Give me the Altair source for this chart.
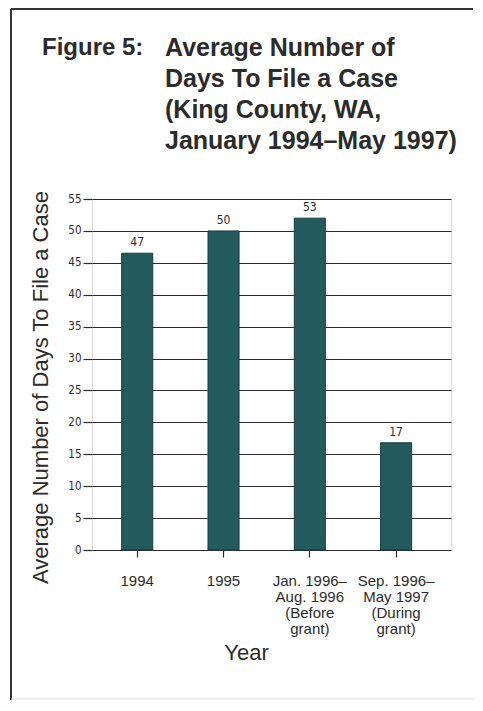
import altair as alt
import pandas as pd

# ---- data ----
categories = ["1994", "1995", "Jan. 1996–|Aug. 1996|(Before|grant)", "Sep. 1996–|May 1997|(During|grant)"]
values = [46.5, 50, 52, 16.8]          # bar heights as drawn
value_labels = ["47", "50", "53", "17"]  # printed labels
y_ticks = [0, 5, 10, 15, 20, 25, 30, 35, 40, 45, 50, 55]
title_lines = ["Average Number of", "Days To File a Case", "(King County, WA,", "January 1994–May 1997)"]
fig_label = ["Figure 5:"]

df = pd.DataFrame({"cat": categories, "val": values, "lab": value_labels})

W, H = 359, 351
NARROW = "Liberation Sans Narrow, DejaVu Sans Condensed, Arial Narrow, sans-serif"
MAIN = "Liberation Sans, Arial, Helvetica, sans-serif"
INK = "#2b2b2b"
BAR = "#235a5c"

x_enc = alt.X(
    "cat:N",
    sort=categories,
    scale=alt.Scale(paddingInner=0.64, paddingOuter=0.4, align=0.43),
    axis=alt.Axis(
        title="Year",
        labelExpr="split(datum.label, '|')",
        labelAngle=0,
        labelFont=MAIN,
        labelFontSize=15,
        labelLineHeight=16,
        labelColor=INK,
        labelPadding=16,
        labelBaseline="top",
        ticks=True,
        tickSize=7,
        tickColor=INK,
        tickWidth=1.2,
        domain=False,
        titleFont=MAIN,
        titleFontSize=22,
        titleFontWeight="normal",
        titleColor=INK,
        titleX=154,
        titleY=102,
        titleBaseline="middle",
        titleAlign="center",
    ),
)

y_enc = alt.Y(
    "val:Q",
    scale=alt.Scale(domain=[0, 55], nice=False),
    axis=alt.Axis(
        title="Average Number of Days To File a Case",
        values=y_ticks,
        labelOverlap=False,
        grid=True,
        gridColor=INK,
        gridWidth=1.2,
        domain=False,
        ticks=True,
        tickSize=9,
        tickColor=INK,
        tickWidth=1.2,
        labelFont=NARROW,
        labelFontSize=11.5,
        labelColor=INK,
        labelPadding=2,
        titleFont=MAIN,
        titleFontSize=22,
        titleFontWeight="normal",
        titleColor=INK,
        titleX=-52,
        titleY=188,
        titleAngle=-90,
        titleAlign="center",
        titleBaseline="middle",
    ),
)

base = alt.Chart(df)

bars = base.mark_bar(color=BAR, stroke="#173f41", strokeWidth=1).encode(x=x_enc, y=y_enc)

labels = base.mark_text(
    font=NARROW, fontSize=12, color=INK, baseline="bottom", dy=-4
).encode(x=x_enc, y=y_enc, text="lab:N")

fig_df = pd.DataFrame({"t": fig_label})
fig_text = alt.Chart(fig_df).mark_text(
    font=MAIN, fontSize=24, fontWeight="bold", color=INK, align="left", baseline="middle"
).encode(x=alt.value(-50), y=alt.value(-151), text="t:N")

# decorative frame around the figure: dark top/left/right, faint bottom
frame_left = alt.Chart(fig_df).mark_rule(color="#333333", strokeWidth=2).encode(
    x=alt.value(-81), y=alt.value(-190), y2=alt.value(501))
frame_right = alt.Chart(fig_df).mark_rule(color="#333333", strokeWidth=1.8).encode(
    x=alt.value(384), y=alt.value(-190), y2=alt.value(501))
frame_top = alt.Chart(fig_df).mark_rule(color="#333333", strokeWidth=1.8).encode(
    x=alt.value(-81), x2=alt.value(384), y=alt.value(-190))
frame_bottom = alt.Chart(fig_df).mark_rule(color="#dddddd", strokeWidth=1).encode(
    x=alt.value(-81), x2=alt.value(384), y=alt.value(500))

chart = (
    alt.layer(frame_left, frame_right, frame_top, frame_bottom, bars, labels, fig_text)
    .properties(
        width=W,
        height=H,
        title=alt.TitleParams(
            text=title_lines,
            anchor="start",
            frame="group",
            baseline="bottom",
            offset=0,
            dx=73,
            dy=171,
            font=MAIN,
            fontSize=25,
            fontWeight="bold",
            color=INK,
            lineHeight=31,
        ),
        autosize=alt.AutoSizeParams(type="none"),
        padding={"left": 84, "top": 191, "right": 22, "bottom": 150},
    )
    .configure_view(stroke=INK, strokeWidth=1.5)
    .configure(background="white")
)

chart.save("out.html", embed_options={"renderer": "svg", "actions": False})
